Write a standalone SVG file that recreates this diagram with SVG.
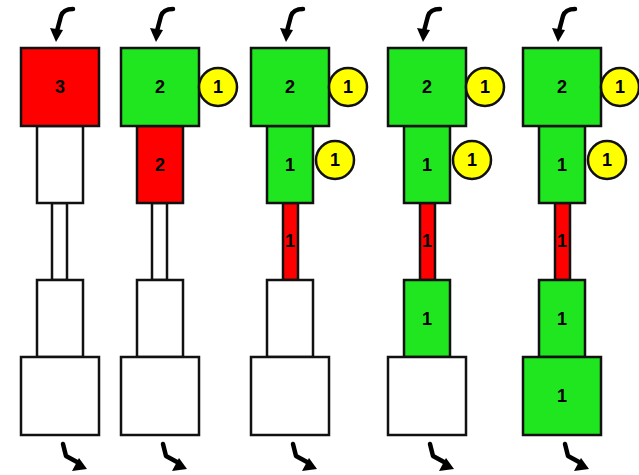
<svg xmlns="http://www.w3.org/2000/svg" width="639" height="475" viewBox="0 0 639 475">
<defs>
<style>
.b{stroke:#111;stroke-width:2.5}
.w{fill:#fff}
.r{fill:#f00}
.g{fill:#1fe61f}
.y{fill:#ff0;stroke:#111;stroke-width:2.5}
.t{font-family:"Liberation Sans",Arial,sans-serif;font-size:18px;font-weight:bold;fill:#000;text-anchor:middle;dominant-baseline:central}
.ar{fill:none;stroke:#000;stroke-width:4.5;stroke-linecap:round;stroke-linejoin:round}
.ah{fill:#000}
</style>
<g id="inArrow">
<path class="ar" d="M13,9 C8,9 3,10 1,16 L-3,31"/>
<polygon class="ah" points="-10,28 -4,42 3,30"/>
</g>
<g id="outArrow">
<path class="ar" d="M3,444 L6,456 L17,462"/>
<polygon class="ah" points="12,471 27,469 19,458"/>
</g>
</defs>
<rect width="639" height="475" fill="#fff"/>
<g id="connectors">
<use href="#inArrow" x="60"/><use href="#inArrow" x="160"/><use href="#inArrow" x="290"/><use href="#inArrow" x="427"/><use href="#inArrow" x="562"/>
<use href="#outArrow" x="60"/><use href="#outArrow" x="160"/><use href="#outArrow" x="290"/><use href="#outArrow" x="427"/><use href="#outArrow" x="562"/>
</g>
<g id="col1">
<rect class="b w" x="52" y="203" width="15" height="77"/>
<rect class="b w" x="37" y="126" width="46" height="77"/>
<rect class="b w" x="37" y="280" width="46" height="77"/>
<rect class="b w" x="21" y="357" width="78" height="78"/>
<rect class="b r" x="21" y="48" width="78" height="78"/>
<text class="t" x="60" y="87">3</text>
</g>
<g id="col2">
<rect class="b w" x="152" y="203" width="15" height="77"/>
<rect class="b r" x="137" y="126" width="46" height="77"/>
<text class="t" x="160" y="165">2</text>
<rect class="b w" x="137" y="280" width="46" height="77"/>
<rect class="b w" x="121" y="357" width="78" height="78"/>
<rect class="b g" x="121" y="48" width="78" height="78"/>
<text class="t" x="160" y="87">2</text>
<circle class="y" cx="218" cy="87" r="19"/>
<text class="t" x="218" y="87">1</text>
</g>
<g id="col3">
<rect class="b r" x="283" y="203" width="15" height="77"/>
<text class="t" x="290" y="241">1</text>
<rect class="b g" x="267" y="126" width="46" height="77"/>
<text class="t" x="290" y="165">1</text>
<circle class="y" cx="335" cy="160" r="19"/>
<text class="t" x="335" y="160">1</text>
<rect class="b w" x="267" y="280" width="46" height="77"/>
<rect class="b w" x="251" y="357" width="78" height="78"/>
<rect class="b g" x="251" y="48" width="78" height="78"/>
<text class="t" x="290" y="87">2</text>
<circle class="y" cx="348" cy="87" r="19"/>
<text class="t" x="348" y="87">1</text>
</g>
<g id="col4">
<rect class="b r" x="420" y="203" width="15" height="77"/>
<text class="t" x="427" y="241">1</text>
<rect class="b g" x="404" y="126" width="46" height="77"/>
<text class="t" x="427" y="165">1</text>
<circle class="y" cx="472" cy="160" r="19"/>
<text class="t" x="472" y="160">1</text>
<rect class="b g" x="404" y="280" width="46" height="77"/>
<text class="t" x="427" y="319">1</text>
<rect class="b w" x="388" y="357" width="78" height="78"/>
<rect class="b g" x="388" y="48" width="78" height="78"/>
<text class="t" x="427" y="87">2</text>
<circle class="y" cx="485" cy="87" r="19"/>
<text class="t" x="485" y="87">1</text>
</g>
<g id="col5">
<rect class="b r" x="555" y="203" width="15" height="77"/>
<text class="t" x="562" y="241">1</text>
<rect class="b g" x="539" y="126" width="46" height="77"/>
<text class="t" x="562" y="165">1</text>
<circle class="y" cx="607" cy="160" r="19"/>
<text class="t" x="607" y="160">1</text>
<rect class="b g" x="539" y="280" width="46" height="77"/>
<text class="t" x="562" y="319">1</text>
<rect class="b g" x="523" y="357" width="78" height="78"/>
<text class="t" x="562" y="396">1</text>
<rect class="b g" x="523" y="48" width="78" height="78"/>
<text class="t" x="562" y="87">2</text>
<circle class="y" cx="620" cy="87" r="19"/>
<text class="t" x="620" y="87">1</text>
</g>
</svg>
